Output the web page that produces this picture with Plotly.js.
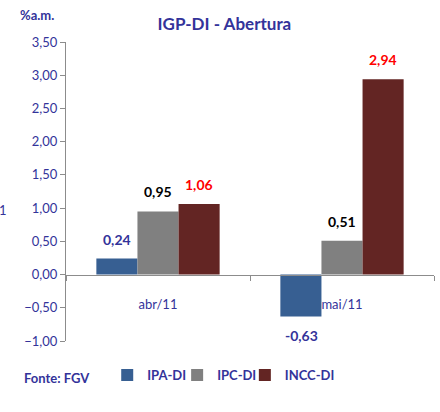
<!DOCTYPE html>
<html>
<head>
<meta charset="utf-8">
<script src="https://cdn.plot.ly/plotly-3.0.1.min.js"></script>
<style>html,body{margin:0;padding:0;background:#fff}#chart{width:440px;height:412px}</style>
</head>
<body>
<div id="chart"></div>
<script>
const categories = ["abr/11", "mai/11"];
const seriesNames = ["IPA-DI", "IPC-DI", "INCC-DI"];
const ipa = [0.24, -0.63];
const ipc = [0.95, 0.51];
const incc = [1.06, 2.94];
const yTicks = [-1, -0.5, 0, 0.5, 1, 1.5, 2, 2.5, 3, 3.5];

const FONT = "Lato, 'Liberation Sans', sans-serif";
const NAVY = "#33339a";
const colors = ["#375f92", "#808080", "#632523"];
const labelColors = [NAVY, "#000000", "#ff0000"];
const series = [ipa, ipc, incc];
const legendIds = ["legend", "legend2", "legend3"];
const legendX = [0.112, 0.302, 0.486];

const fmt = v => v.toFixed(2).replace(".", ",");

const traces = series.map((vals, i) => ({
  type: "bar",
  name: seriesNames[i],
  x: categories,
  y: vals,
  legend: legendIds[i],
  marker: {color: colors[i], line: {width: 0}},
  hoverinfo: "skip"
}));

const offsets = [-41, 0, 41];
const annotations = [];
series.forEach((vals, i) => {
  vals.forEach((v, j) => {
    annotations.push({
      x: categories[j], y: v, xref: "x", yref: "y",
      xshift: offsets[i],
      yshift: v >= 0 ? 9 : -9,
      yanchor: v >= 0 ? "bottom" : "top",
      text: "<b>" + fmt(v) + "</b>",
      showarrow: false,
      font: {family: FONT, size: 14, color: labelColors[i]}
    });
  });
});
annotations.push({
  xref: "paper", yref: "paper", x: -0.079, y: 1.09, xanchor: "center", yanchor: "middle",
  text: "<b>%a.m.</b>", showarrow: false,
  font: {family: FONT, size: 13, color: NAVY}
});
annotations.push({
  xref: "paper", yref: "paper", x: -0.12, y: -0.124, xanchor: "left", yanchor: "middle",
  text: "<b>Fonte: FGV</b>", showarrow: false,
  font: {family: FONT, size: 13, color: NAVY}
});
annotations.push({
  xref: "paper", yref: "paper", x: -0.171, y: 0.438, xanchor: "center", yanchor: "middle",
  text: "1", showarrow: false,
  font: {family: FONT, size: 13, color: NAVY}
});

const layout = {
  width: 440, height: 412,
  margin: {l: 66, r: 6, t: 42, b: 71},
  paper_bgcolor: "#ffffff", plot_bgcolor: "#ffffff",
  font: {family: FONT, color: NAVY},
  title: {text: "<b>IGP-DI - Abertura</b>", x: 0.51, xanchor: "center", y: 0.942, yanchor: "middle",
          font: {family: FONT, size: 17, color: NAVY}},
  barmode: "group",
  bargap: 0.33, bargroupgap: 0,
  showlegend: true,
  separators: ",.",
  xaxis: {
    type: "category",
    anchor: "free", position: (0 - (-1)) / 4.5,
    showline: true, linecolor: "#8c8c8c", linewidth: 1,
    ticks: "outside", tickson: "boundaries", ticklen: 5, tickcolor: "#8c8c8c",
    ticklabelstandoff: 18,
    tickfont: {family: FONT, size: 13, color: NAVY},
    showgrid: false, zeroline: false, fixedrange: true
  },
  yaxis: {
    range: [-1, 3.5],
    tickvals: yTicks,
    tickformat: ".2f",
    showline: true, linecolor: "#8c8c8c", linewidth: 1,
    ticks: "outside", ticklen: 5, tickcolor: "#8c8c8c",
    tickfont: {family: FONT, size: 13, color: NAVY},
    showgrid: false, zeroline: false, fixedrange: true
  },
  annotations: annotations
};
legendIds.forEach((id, i) => {
  layout[id] = {orientation: "h", x: legendX[i], xanchor: "left", y: -0.114, yanchor: "middle",
                font: {family: FONT, size: 13, color: NAVY, weight: "bold"},
                itemwidth: 30, bgcolor: "rgba(0,0,0,0)", borderwidth: 0};
});

Plotly.newPlot("chart", traces, layout, {displayModeBar: false, staticPlot: true});
</script>
</body>
</html>
